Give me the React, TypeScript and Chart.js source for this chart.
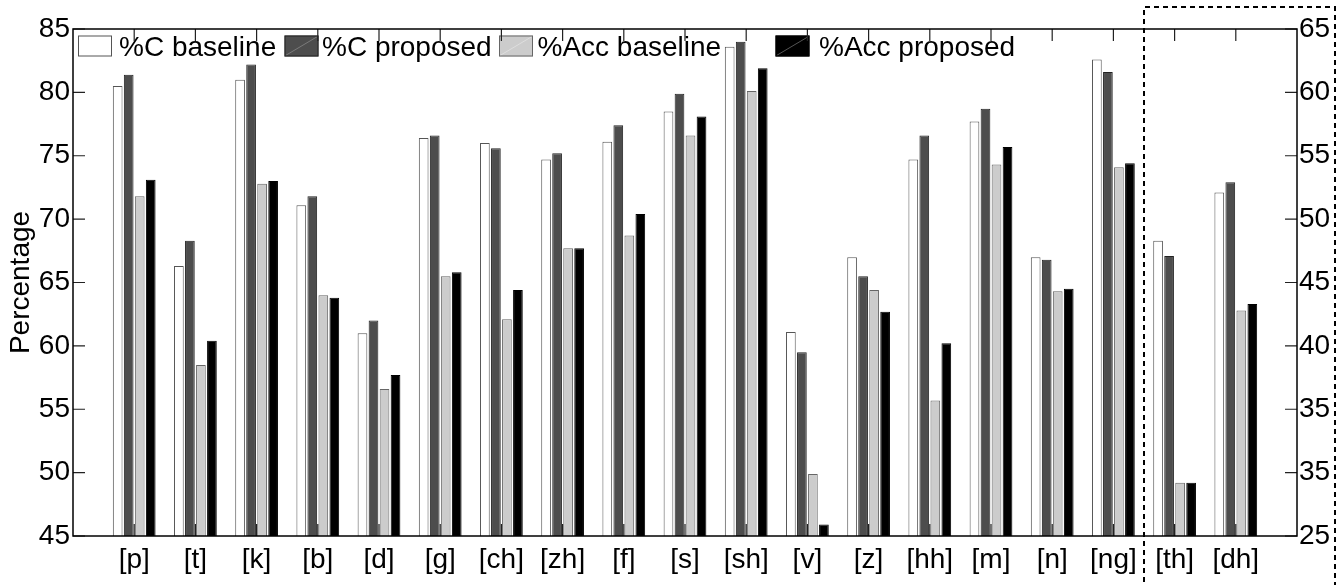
import { useEffect, useRef } from 'react';
import { Chart, registerables } from 'chart.js';

Chart.register(...registerables);

const FONT = '"Liberation Sans", Arial, Helvetica, sans-serif';

// Phoneme categories along the x axis
const categories = ['[p]', '[t]', '[k]', '[b]', '[d]', '[g]', '[ch]', '[zh]', '[f]', '[s]', '[sh]', '[v]', '[z]', '[hh]', '[m]', '[n]', '[ng]', '[th]', '[dh]'];

// %C values (left axis)
const cBaseline = [80.5, 66.3, 81.0, 71.1, 61.0, 76.4, 76.0, 74.7, 76.1, 78.5, 83.6, 61.1, 67.0, 74.7, 77.7, 67.0, 82.6, 68.3, 72.1];
const cProposed = [81.4, 68.3, 82.2, 71.8, 62.0, 76.6, 75.6, 75.2, 77.4, 79.9, 84.0, 59.5, 65.5, 76.6, 78.7, 66.8, 81.6, 67.1, 72.9];

// %Acc values (right axis)
const accBaseline = [51.8, 38.5, 52.8, 44.0, 36.6, 45.5, 42.1, 47.7, 48.7, 56.6, 60.1, 29.9, 44.4, 35.7, 54.3, 44.3, 54.1, 29.2, 42.8];
const accProposed = [53.1, 40.4, 53.0, 43.8, 37.7, 45.8, 44.4, 47.7, 50.4, 58.1, 61.9, 25.9, 42.7, 40.2, 55.7, 44.5, 54.4, 29.2, 43.3];

// Right axis tick labels, bottom to top
const rightTickLabels = ['25', '35', '35', '40', '45', '50', '55', '60', '65'];

const seriesNames = ['%C baseline', '%C proposed', '%Acc baseline', '%Acc proposed'];

const fills = ['#ffffff', '#4d4d4d', '#cccccc', '#000000'];
const borders = ['#555555', '#222222', '#666666', '#000000'];
const diagonals = [null, '#7a7a7a', '#dedede', '#555555'];

// pad with an empty slot at each end so categories sit at 1..19 on a 0..20 axis
const labels = ['', ...categories, ''];
const pad = (arr: number[]) => [null, ...arr, null];

const framePlugin = {
  id: 'frameAndLegend',
  afterDatasetsDraw(chart: any) {
    const { ctx, chartArea } = chart;
    const { left, right, top, bottom } = chartArea;
    const xs = chart.scales.x;
    const ys = chart.scales.y;
    ctx.save();

    // legend
    const boxX = [78, 284.5, 499, 775.5];
    const textX = [119, 322, 537.5, 819];
    ctx.font = `28px ${FONT}`;
    ctx.textBaseline = 'alphabetic';
    ctx.textAlign = 'left';
    for (let i = 0; i < 4; i++) {
      ctx.fillStyle = fills[i];
      ctx.fillRect(boxX[i], 35.5, 34, 21);
      const d = diagonals[i];
      if (d) {
        ctx.strokeStyle = d;
        ctx.lineWidth = 1;
        ctx.beginPath();
        ctx.moveTo(boxX[i] + 1, 55.5);
        ctx.lineTo(boxX[i] + 33, 36.5);
        ctx.stroke();
      }
      ctx.strokeStyle = borders[i];
      ctx.lineWidth = 1;
      ctx.strokeRect(boxX[i] + 0.5, 36, 33, 20);
      ctx.fillStyle = '#000';
      ctx.fillText(seriesNames[i], textX[i], 55.5);
    }

    // inward ticks
    ctx.strokeStyle = '#222';
    ctx.lineWidth = 1.2;
    ctx.beginPath();
    for (let v = 45; v <= 85; v += 5) {
      const y = ys.getPixelForValue(v);
      ctx.moveTo(left, y);
      ctx.lineTo(left + 12, y);
      ctx.moveTo(right, y);
      ctx.lineTo(right - 12, y);
    }
    for (let i = 1; i <= categories.length; i++) {
      const x = xs.getPixelForValue(i);
      ctx.moveTo(x, top);
      ctx.lineTo(x, top + 12);
      ctx.moveTo(x, bottom);
      ctx.lineTo(x, bottom - 12);
    }
    ctx.stroke();

    // axes box
    ctx.strokeStyle = '#000';
    ctx.lineWidth = 1.5;
    ctx.strokeRect(left, top, right - left, bottom - top);
    ctx.restore();
  },
  afterDraw(chart: any) {
    const { ctx } = chart;
    ctx.save();
    ctx.strokeStyle = '#000';
    ctx.setLineDash([5, 4]);
    ctx.lineWidth = 2;
    ctx.beginPath();
    ctx.moveTo(1144, 600);
    ctx.lineTo(1144, 7);
    ctx.lineTo(1335, 7);
    ctx.lineTo(1335, 600);
    ctx.stroke();
    ctx.restore();
  },
};

export default function App() {
  const ref = useRef<HTMLCanvasElement | null>(null);

  useEffect(() => {
    const canvas = ref.current;
    if (!canvas) return;
    const series = [cBaseline, cProposed, accBaseline, accProposed];
    const chart = new Chart(canvas, {
      type: 'bar',
      data: {
        labels,
        datasets: series.map((s, i) => ({
          label: seriesNames[i],
          data: pad(s),
          backgroundColor: fills[i],
          borderColor: borders[i],
          borderWidth: 1,
          yAxisID: i < 2 ? 'y' : 'y2',
          stack: `s${i}`,
          categoryPercentage: 0.72,
          barPercentage: 0.88,
        })),
      },
      options: {
        responsive: false,
        animation: false,
        devicePixelRatio: 1,
        layout: { padding: { top: 29, left: 0, right: 0, bottom: 0 } },
        plugins: {
          legend: { display: false },
          tooltip: { enabled: false },
          title: { display: false },
        },
        scales: {
          x: {
            type: 'category',
            offset: false,
            grid: { display: false, drawTicks: false },
            border: { display: false },
            ticks: {
              autoSkip: false,
              maxRotation: 0,
              minRotation: 0,
              padding: 7,
              color: '#000',
              font: { family: FONT, size: 28 },
            },
            afterFit: (scale: any) => {
              scale.height = 49;
            },
          },
          y: {
            type: 'linear',
            position: 'left',
            min: 45,
            max: 85,
            grid: { display: false, drawTicks: false },
            border: { display: false },
            ticks: {
              stepSize: 5,
              padding: 3,
              color: '#000',
              font: { family: FONT, size: 28 },
            },
            title: {
              display: true,
              text: 'Percentage',
              color: '#000',
              font: { family: FONT, size: 28 },
              padding: { top: 4, bottom: 0 },
            },
            afterFit: (scale: any) => {
              scale.width = 73;
            },
          },
          y2: {
            type: 'linear',
            position: 'right',
            min: 25,
            max: 65,
            grid: { display: false, drawTicks: false },
            border: { display: false },
            ticks: {
              stepSize: 5,
              padding: 2,
              color: '#000',
              font: { family: FONT, size: 28 },
              callback: (v: any) => rightTickLabels[Math.round((Number(v) - 25) / 5)] ?? '',
            },
            afterFit: (scale: any) => {
              scale.width = 39;
            },
          },
        },
      },
      plugins: [framePlugin],
    });
    return () => chart.destroy();
  }, []);

  return (
    <div style={{ position: 'absolute', left: 0, top: 0, width: 1336, height: 585, background: '#fff' }}>
      <canvas ref={ref} width={1336} height={585} style={{ display: 'block' }} />
    </div>
  );
}
